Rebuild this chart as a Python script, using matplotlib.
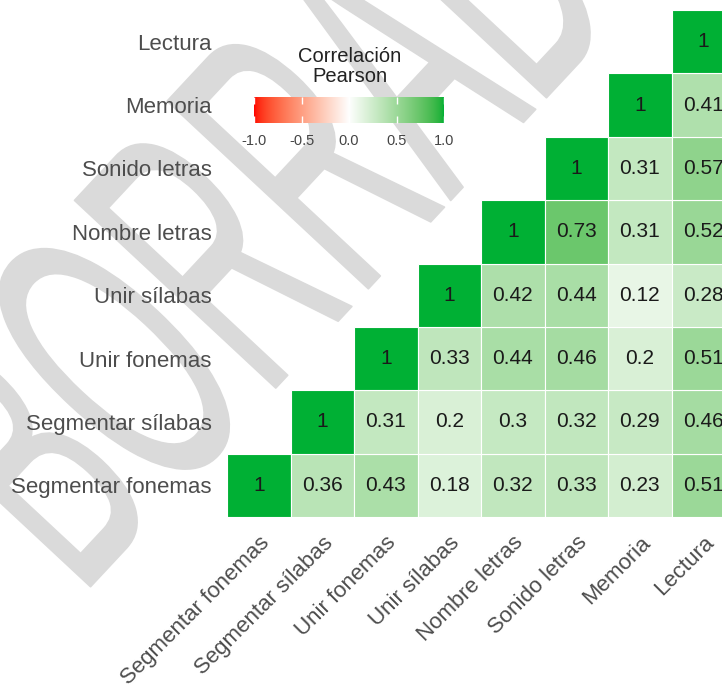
import numpy as np
import matplotlib
matplotlib.use("Agg")
import matplotlib.pyplot as plt
from matplotlib.colors import ListedColormap
from matplotlib.textpath import TextPath
from matplotlib.patches import PathPatch, Rectangle
from matplotlib.font_manager import FontProperties
from matplotlib.transforms import Affine2D

# ---- data ----
variables = ["Segmentar fonemas", "Segmentar sílabas", "Unir fonemas",
             "Unir sílabas", "Nombre letras", "Sonido letras", "Memoria", "Lectura"]

# upper-triangle rows: row i holds correlations with variables i..7
r_seg_fonemas = [1, 0.36, 0.43, 0.18, 0.32, 0.33, 0.23, 0.51]
r_seg_silabas = [1, 0.31, 0.20, 0.30, 0.32, 0.29, 0.46]
r_unir_fonemas = [1, 0.33, 0.44, 0.46, 0.20, 0.51]
r_unir_silabas = [1, 0.42, 0.44, 0.12, 0.28]
r_nombre_letras = [1, 0.73, 0.31, 0.52]
r_sonido_letras = [1, 0.31, 0.57]
r_memoria = [1, 0.41]
r_lectura = [1]
corr_rows = [r_seg_fonemas, r_seg_silabas, r_unir_fonemas, r_unir_silabas,
             r_nombre_letras, r_sonido_letras, r_memoria, r_lectura]

legend_ticks = [-1.0, -0.5, 0.0, 0.5, 1.0]
legend_title = ["Correlación", "Pearson"]
watermark = "BORRADOR"

# ---- colour scale (red - white - green, interpolated in CIELAB) ----
def srgb_to_lab(rgb):
    rgb = np.asarray(rgb, float)
    lin = np.where(rgb <= 0.04045, rgb / 12.92, ((rgb + 0.055) / 1.055) ** 2.4)
    m = np.array([[0.4124564, 0.3575761, 0.1804375],
                  [0.2126729, 0.7151522, 0.0721750],
                  [0.0193339, 0.1191920, 0.9503041]])
    xyz = lin @ m.T / np.array([0.95047, 1.0, 1.08883])
    f = np.where(xyz > (6 / 29) ** 3, np.cbrt(xyz), xyz / (3 * (6 / 29) ** 2) + 4 / 29)
    return np.stack([116 * f[..., 1] - 16,
                     500 * (f[..., 0] - f[..., 1]),
                     200 * (f[..., 1] - f[..., 2])], axis=-1)

def lab_to_srgb(lab):
    lab = np.asarray(lab, float)
    fy = (lab[..., 0] + 16) / 116
    fx = fy + lab[..., 1] / 500
    fz = fy - lab[..., 2] / 200
    f = np.stack([fx, fy, fz], axis=-1)
    xyz = np.where(f > 6 / 29, f ** 3, 3 * (6 / 29) ** 2 * (f - 4 / 29))
    xyz = xyz * np.array([0.95047, 1.0, 1.08883])
    m = np.array([[3.2404542, -1.5371385, -0.4985314],
                  [-0.9692660, 1.8760108, 0.0415560],
                  [0.0556434, -0.2040259, 1.0572252]])
    lin = np.clip(xyz @ m.T, 0, 1)
    rgb = np.where(lin <= 0.0031308, 12.92 * lin, 1.055 * lin ** (1 / 2.4) - 0.055)
    return np.clip(rgb, 0, 1)

low = np.array([255, 0, 0]) / 255
mid = np.array([255, 255, 255]) / 255
high = np.array([0, 176, 52]) / 255
lab_low, lab_mid, lab_high = srgb_to_lab(low), srgb_to_lab(mid), srgb_to_lab(high)
vals = np.linspace(-1, 1, 401)
labs = np.array([lab_mid + (-v) * (lab_low - lab_mid) if v < 0 else
                 lab_mid + v * (lab_high - lab_mid) for v in vals])
cmap = ListedColormap(lab_to_srgb(labs))

# ---- figure ----
W, H = 722, 688
fig = plt.figure(figsize=(W / 100, H / 100), dpi=100)
fig.patch.set_facecolor("white")
FONT = "Liberation Sans"

# background watermark text, stretched and rotated (pixel units -> figure fraction)
tp = TextPath((0, 0), watermark, size=1, prop=FontProperties(family=FONT))
to_px = Affine2D().scale(188, 400).rotate_deg(47).translate(80, 90)
to_fig = Affine2D().scale(1 / W, 1 / H)
wm = PathPatch(tp.transformed(to_px + to_fig), facecolor="#dadada",
               edgecolor="#dadada", lw=1.2, joinstyle="round", capstyle="round",
               transform=fig.transFigure, zorder=-5)
fig.add_artist(wm)

# heatmap axes
n = len(variables)
ax = fig.add_axes([227 / W, (H - 517) / H, 508 / W, 507 / H])
ax.set_facecolor("none")
for i, row in enumerate(corr_rows):
    for k, v in enumerate(row):
        j = i + k
        ax.add_patch(Rectangle((j, i), 1, 1, facecolor=cmap((v + 1) / 2),
                               edgecolor="white", linewidth=0.8))
        ax.text(j + 0.5, i + 0.5, f"{v:g}", ha="center", va="center",
                fontsize=15, family=FONT, color="#1a1a1a")
ax.set_xlim(0, n)
ax.set_ylim(0, n)
for s in ax.spines.values():
    s.set_visible(False)
ax.set_xticks(np.arange(n) + 0.5)
ax.set_yticks(np.arange(n) + 0.5)
ax.set_xticklabels(variables, rotation=45, ha="right", va="top",
                   rotation_mode="anchor", fontsize=16, family=FONT, color="#4d4d4d")
ax.set_yticklabels(variables, fontsize=16, family=FONT, color="#4d4d4d")
ax.tick_params(axis="both", length=0)
ax.tick_params(axis="y", pad=11)
ax.tick_params(axis="x", pad=11)

# colour bar legend
cax = fig.add_axes([254 / W, (H - 123) / H, 190 / W, 26 / H])
grad = np.linspace(-1, 1, 400)[None, :]
cax.imshow(grad, extent=(-1, 1, 0, 1), aspect="auto", cmap=cmap, vmin=-1, vmax=1)
cax.set_xlim(-1, 1)
cax.set_ylim(0, 1)
for s in cax.spines.values():
    s.set_visible(False)
cax.set_yticks([])
cax.set_xticks(legend_ticks)
cax.set_xticklabels([f"{t:.1f}" for t in legend_ticks], fontsize=10.5, family=FONT,
                    color="#444444")
cax.tick_params(axis="x", direction="in", length=5, width=1, color="white",
                top=True, bottom=True, pad=8)
fig.text(350 / W, 1 - 57 / H, legend_title[0], ha="center", va="center",
         fontsize=14.5, family=FONT, color="#222222")
fig.text(350 / W, 1 - 77 / H, legend_title[1], ha="center", va="center",
         fontsize=14.5, family=FONT, color="#222222")

fig.savefig("out.png", dpi=100)
